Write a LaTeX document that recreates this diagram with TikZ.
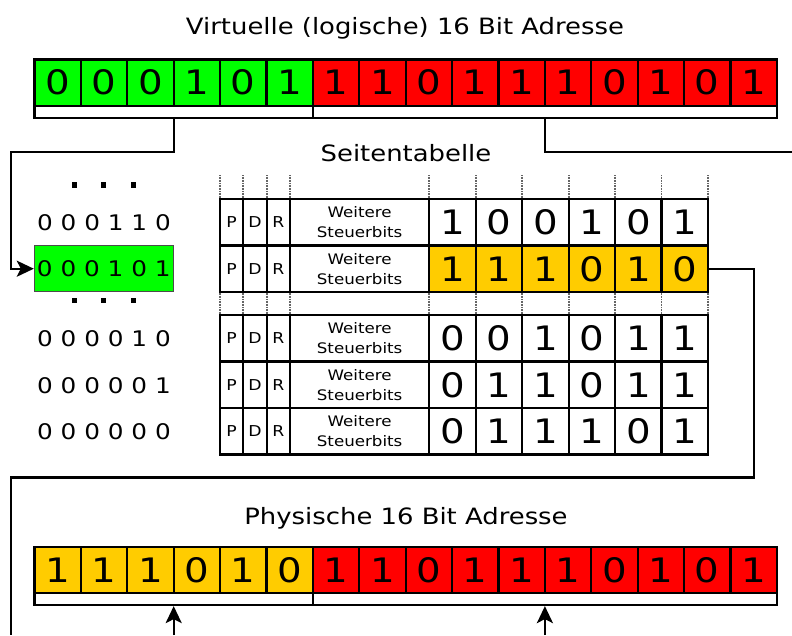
\documentclass[tikz,border=0pt]{standalone}
\usepackage{fontspec}
\setmainfont[FakeStretch=1.15]{DejaVu Sans}
\usetikzlibrary{arrows.meta}
\definecolor{bitgreen}{RGB}{0,255,0}
\definecolor{bitred}{RGB}{255,0,0}
\definecolor{bitorange}{RGB}{255,204,0}
\begin{document}
\begin{tikzpicture}[x=1pt,y=-1pt,
  bitcell/.style={draw, line width=2.2pt, minimum width=46.4pt, minimum height=46.5pt, inner sep=0pt, font=\fontsize{33.7}{40}\selectfont},
  brk/.style={draw, line width=2.2pt, fill=white, minimum height=11.7pt, inner sep=0pt},
  flagcell/.style={draw, line width=2.2pt, minimum width=23.35pt, minimum height=46.5pt, inner sep=0pt, font=\fontsize{15}{20}\selectfont},
  ctrlcell/.style={draw, line width=2.2pt, minimum width=139.3pt, minimum height=46.5pt, inner sep=0pt, align=center, font=\fontsize{14.5}{20}\selectfont},
  heading/.style={anchor=base, inner sep=0pt, font=\fontsize{22.5}{27}\selectfont},
  pagenum/.style={inner sep=0pt, font=\fontsize{21.5}{26}\selectfont},
  conn/.style={line width=2.4pt},
  arr/.style={conn, -{Stealth[length=17pt,width=16pt,inset=4pt]}},
  dotline/.style={black!60, line width=1.8pt, dash pattern=on 0.8pt off 0.8pt},
  dot/.style={fill=black}
]
\useasboundingbox (0,0) rectangle (792,635);

% headings
\node[heading] (title1) at (405,34.3) {Virtuelle (logische) 16 Bit Adresse};
\node[heading] (title2) at (406,161.3) {Seitentabelle};
\node[heading] (title3) at (406,524) {Physische 16 Bit Adresse};

% virtual address register
\foreach \b [count=\i from 0] in {0,0,0,1,0,1,1,1,0,1,1,1,0,1,0,1} {
  \ifnum\i<6 \def\fc{bitgreen}\else\def\fc{bitred}\fi
  \node[bitcell, fill=\fc] (v\i) at ({34.5+(\i+0.5)*46.4},82.65) {\b};
}
\node[brk, minimum width=278.4pt] (vb1) at (173.7,111.85) {};
\node[brk, minimum width=464pt] (vb2) at (544.9,111.85) {};

% physical address register
\foreach \b [count=\i from 0] in {1,1,1,0,1,0,1,1,0,1,1,1,0,1,0,1} {
  \ifnum\i<6 \def\fc{bitorange}\else\def\fc{bitred}\fi
  \node[bitcell, fill=\fc, minimum height=46pt] (p\i) at ({34.5+(\i+0.5)*46.4},570.3) {\b};
}
\node[brk, minimum width=278.4pt] (pb1) at (173.7,599.15) {};
\node[brk, minimum width=464pt] (pb2) at (544.9,599.15) {};

% page table
\foreach \bits/\yc/\r in {{1,0,0,1,0,1}/222.25/1,{1,1,1,0,1,0}/268.75/2,{0,0,1,0,1,1}/338.25/3,{0,1,1,0,1,1}/384.75/4,{0,1,1,1,0,1}/431.25/5} {
  \node[flagcell] (t\r p) at (231.65,\yc) {P};
  \node[flagcell] (t\r d) at (255,\yc) {D};
  \node[flagcell] (t\r r) at (278.35,\yc) {R};
  \node[ctrlcell] (t\r w) at (359.65,\yc) {Weitere\\Steuerbits};
  \ifnum\r=2 \def\rc{bitorange}\else\def\rc{white}\fi
  \foreach \b [count=\k from 0] in \bits {
    \node[bitcell, minimum width=46.45pt, fill=\rc] (t\r b\k) at ({429.3+(\k+0.5)*46.45},\yc) {\b};
  }
}

% dotted continuation lines
\foreach \x in {220,243.3,266.7,290,429.3,475.75,522.2,568.65,615.1,661.55,708} {
  \draw[dotline] (\x,175) -- (\x,198);
  \draw[dotline] (\x,292.5) -- (\x,314);
}

% page numbers column
\node[pagenum] (l1) at (104,222.25) {0 0 0 1 1 0};
\node[pagenum, draw=black!70, line width=1pt, fill=bitgreen, minimum width=139pt, minimum height=46pt] (l2) at (103.8,268.7) {0 0 0 1 0 1};
\node[pagenum] (l3) at (104,338.25) {0 0 0 0 1 0};
\node[pagenum] (l4) at (104,385.5) {0 0 0 0 0 1};
\node[pagenum] (l5) at (104,431.25) {0 0 0 0 0 0};
\foreach \x in {74.5,103.5,133.5} {
  \foreach \y in {184.8,300.5} {
    \fill[dot] (\x-2.75,\y-2.75) rectangle ++(5.5,5.5);
  }
}

% connectors
\coordinate (c1) at (11,151.7);
\coordinate (c2) at (792,151.7);
\coordinate (c3) at (754,477.3);
\coordinate (c4) at (11,635);
\coordinate (c5) at (173.7,635);
\coordinate (c6) at (544.9,635);
\draw[arr] (vb1.south) |- (c1) |- (l2.west);
\draw[conn] (vb2.south) |- (c2);
\draw[conn] (t2b5.east) -| (c3) -| (c4);
\draw[arr] (c5) -- (pb1.south);
\draw[arr] (c6) -- (pb2.south);
\end{tikzpicture}
\end{document}
